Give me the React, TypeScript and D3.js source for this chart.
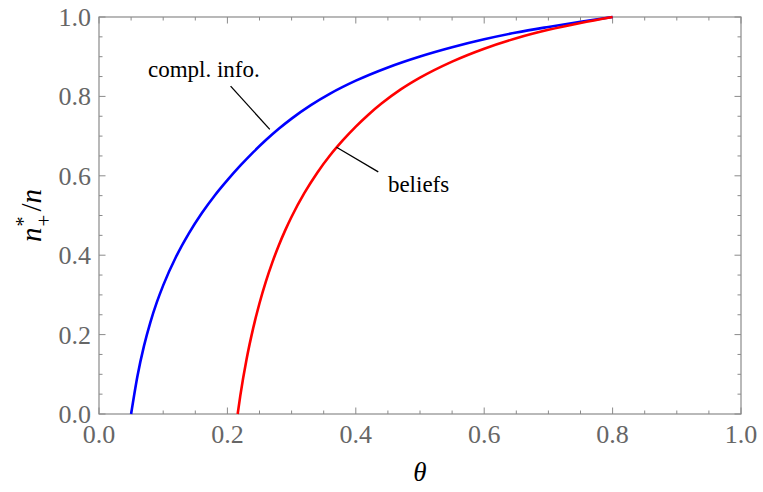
import React from "react";
import * as d3 from "d3";

const blueTheta = [0.05, 0.06, 0.07, 0.08, 0.09, 0.10, 0.12, 0.14, 0.16, 0.18, 0.20, 0.22, 0.24, 0.26, 0.28, 0.30, 0.33, 0.36, 0.40, 0.45, 0.50, 0.55, 0.60, 0.65, 0.70, 0.75, 0.80];
const blueValue = [0, 0.0965, 0.171, 0.231, 0.281, 0.324, 0.396, 0.455, 0.5055, 0.5497, 0.5889, 0.6254, 0.6591, 0.6901, 0.7184, 0.7441, 0.778, 0.807, 0.8396, 0.873, 0.9006, 0.9239, 0.9439, 0.9609, 0.975, 0.988, 1.0];

const redTheta = [0.216, 0.22, 0.23, 0.24, 0.25, 0.26, 0.27, 0.28, 0.29, 0.30, 0.32, 0.34, 0.36, 0.38, 0.40, 0.42, 0.44, 0.47, 0.50, 0.55, 0.60, 0.65, 0.70, 0.75, 0.80];
const redValue = [0, 0.045, 0.139, 0.215, 0.279, 0.334, 0.382, 0.4245, 0.4625, 0.4968, 0.5568, 0.6078, 0.6516, 0.6896, 0.7238, 0.7545, 0.7819, 0.8175, 0.8472, 0.8877, 0.9202, 0.9465, 0.9677, 0.985, 1.0];

const majorTicks = [0, 0.2, 0.4, 0.6, 0.8, 1.0];
const tickLabels = ["0.0", "0.2", "0.4", "0.6", "0.8", "1.0"];
const minorTicks = d3.range(0, 1.0001, 0.05);

const annotations = [
  { text: "compl. info.", textAt: [0.0763, 0.849], line: [[0.205, 0.826], [0.266, 0.717]] },
  { text: "beliefs", textAt: [0.45, 0.559], line: [[0.37, 0.672], [0.435, 0.61]] },
];

export default function App() {
  const W = 763, H = 492;
  const left = 99, right = 741, top = 17, bottom = 414;
  const x = d3.scaleLinear().domain([0, 1]).range([left, right]);
  const y = d3.scaleLinear().domain([0, 1]).range([bottom, top]);
  const line = d3.line<[number, number]>().x(d => x(d[0])).y(d => y(d[1])).curve(d3.curveMonotoneX);
  const blue = blueTheta.map((t, i) => [t, blueValue[i]] as [number, number]);
  const red = redTheta.map((t, i) => [t, redValue[i]] as [number, number]);
  const frame = "#8a8a8a";
  const labelColor = "#666";
  const font = "Liberation Serif, Times New Roman, serif";
  const fs = { fontFamily: font };
  const isMajor = (v: number) => majorTicks.some(m => Math.abs(m - v) < 1e-6);

  return (
    <svg width={W} height={H} style={{ position: "absolute", left: 0, top: 0, background: "#fff" }}>
      <defs>
        <clipPath id="plot">
          <rect x={left - 2} y={top - 2} width={right - left + 4} height={bottom - top + 4} />
        </clipPath>
      </defs>
      {minorTicks.map((t, i) => {
        const len = isMajor(t) ? 6.5 : 3.5;
        return (
          <g key={i} stroke={frame} strokeWidth={1}>
            <line x1={x(t)} x2={x(t)} y1={bottom} y2={bottom - len} />
            <line x1={x(t)} x2={x(t)} y1={top} y2={top + len} />
            <line x1={left} x2={left + len} y1={y(t)} y2={y(t)} />
            <line x1={right} x2={right - len} y1={y(t)} y2={y(t)} />
          </g>
        );
      })}
      <rect x={left} y={top} width={right - left} height={bottom - top} fill="none" stroke={frame} strokeWidth={1.2} />
      {majorTicks.map((t, i) => (
        <text key={"x" + i} x={x(t)} y={bottom + 29} textAnchor="middle" fontSize={26} fill={labelColor} style={fs}>{tickLabels[i]}</text>
      ))}
      {majorTicks.map((t, i) => (
        <text key={"y" + i} x={left - 8} y={y(t) + 9} textAnchor="end" fontSize={26} fill={labelColor} style={fs}>{tickLabels[i]}</text>
      ))}
      <g clipPath="url(#plot)">
        <path d={line(blue) || ""} fill="none" stroke="#0000ff" strokeWidth={2.6} />
        <path d={line(red) || ""} fill="none" stroke="#ff0000" strokeWidth={2.6} />
      </g>
      {annotations.map((a, i) => (
        <g key={"a" + i}>
          <line x1={x(a.line[0][0])} y1={y(a.line[0][1])} x2={x(a.line[1][0])} y2={y(a.line[1][1])} stroke="#000" strokeWidth={1.3} />
          <text x={x(a.textAt[0])} y={y(a.textAt[1])} fontSize={23} fill="#000" style={fs}>{a.text}</text>
        </g>
      ))}
      <text x={(left + right) / 2} y={481} textAnchor="middle" fontSize={27} fontStyle="italic" fill="#000" style={fs}>θ</text>
      <text transform={`translate(41, ${(top + bottom) / 2}) rotate(-90)`} textAnchor="middle" fontSize={29} fill="#000" style={fs}>
        <tspan fontStyle="italic">n</tspan>
        <tspan fontSize={20} dy={-11} dx={1}>*</tspan>
        <tspan fontSize={21} dy={21} dx={-10}>+</tspan>
        <tspan dy={-10} dx={3}>/</tspan>
        <tspan fontStyle="italic">n</tspan>
      </text>
    </svg>
  );
}
